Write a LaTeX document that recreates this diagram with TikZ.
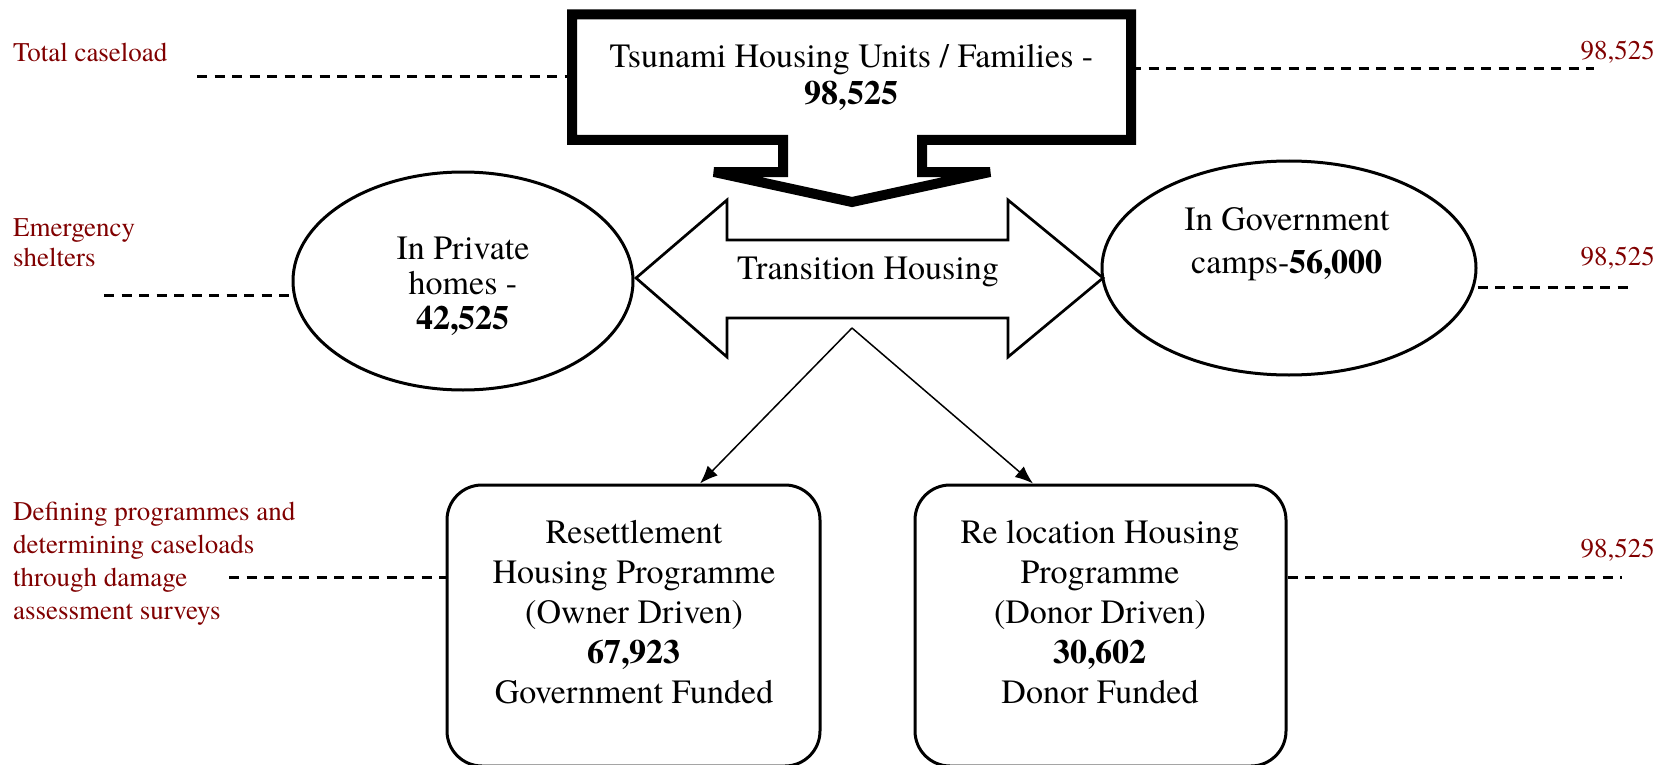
\documentclass[tikz,border=0pt]{standalone}
\usepackage{fontspec}
\setmainfont{TeX Gyre Termes}
\usetikzlibrary{shapes.geometric,arrows.meta}
\definecolor{lblred}{RGB}{128,0,0}
\begin{document}
\begin{tikzpicture}[x=1pt,y=-1pt,
  lbl/.style={text=lblred,font=\fontsize{27}{33}\selectfont,inner sep=0pt},
  maintxt/.style={font=\fontsize{34}{40}\selectfont,align=center,inner sep=0pt},
  dsh/.style={dash pattern=on 10pt off 7.5pt,line width=3pt},
  oval/.style={ellipse,draw,line width=3pt,inner sep=0pt},
  rbx/.style={draw,rounded corners=35pt,line width=3pt,minimum height=281pt,inner sep=0pt},
  thinarrow/.style={line width=1.5pt,-{Latex[length=18pt,width=14pt]}}
]
\useasboundingbox (0,0) rectangle (1657,765);
\clip (0,0) rectangle (1657,765);

% top callout box
\node[maintxt,font=\fontsize{34}{37}\selectfont,minimum width=559pt,minimum height=125.5pt] (topbox) at (851.5,77) {Tsunami Housing Units / Families -\\\textbf{98,525}};
\draw[line width=10pt,miter limit=2] (922,140) -- (1131,140) -- (1131,14.5) -- (572,14.5) -- (572,140) -- (783,140) -- (783,172) -- (714,172) -- (852,202) -- (990,172) -- (922,172) -- cycle;

% ellipses
\node[oval,minimum width=340pt,minimum height=218pt] (priv) at (463,281) {};
\node[maintxt,font=\fontsize{34}{35}\selectfont] (privt) at (463,286) {In Private\\homes -\\\textbf{42,525}};
\node[oval,minimum width=374pt,minimum height=214pt] (gov) at (1289,268) {};
\node[maintxt,font=\fontsize{34}{43}\selectfont] (govt) at (1287,244) {In Government\\camps-\textbf{56,000}};

% double arrow
\draw[line width=2.7pt,fill=white] (636,278) -- (727,200) -- (727,240) -- (1008,240) -- (1008,200) -- (1103,278) -- (1008,357) -- (1008,318) -- (727,318) -- (727,357) -- cycle;
\node[maintxt] (trans) at (868,272) {Transition Housing};

% bottom boxes
\node[rbx,minimum width=373pt] (lbox) at (633.5,625.5) {};
\node[maintxt] (ltxt) at (634,612) {Resettlement\\Housing Programme\\(Owner Driven)\\\textbf{67,923}\\Government Funded};
\node[rbx,minimum width=371pt] (rbox) at (1100.5,625.5) {};
\node[maintxt] (rtxt) at (1100,612) {Re location Housing\\Programme\\(Donor Driven)\\\textbf{30,602}\\Donor Funded};

% diagonal arrows
\coordinate (split) at (852,328);
\coordinate (la) at (700,0);
\coordinate (ra) at (1033,0);
\draw[thinarrow] (split) -- (lbox.north -| la);
\draw[thinarrow] (split) -- (rbox.north -| ra);

% labels
\node[lbl,anchor=west] (l1) at (13,52) {Total caseload};
\node[lbl,anchor=east] (r1) at (1655,52) {98,525};
\node[lbl,anchor=west,align=left,font=\fontsize{27}{30}\selectfont] (l2) at (13,243) {Emergency\\shelters};
\node[lbl,anchor=east] (r2) at (1655,258) {98,525};
\node[lbl,anchor=west,align=left] (l3) at (13,564) {Defining programmes and\\determining caseloads\\through damage\\assessment surveys};
\node[lbl,anchor=east] (r3) at (1655,550) {98,525};

% dashed leader lines
\coordinate (dl1) at (197,77);
\coordinate (dr1) at (1594,69);
\coordinate (dl2) at (104,295);
\coordinate (dr2) at (1629,287);
\coordinate (dl3) at (229,577);
\coordinate (dr3) at (1622,577);
\draw[dsh] (dl1) -- (topbox.west |- dl1);
\draw[dsh] (topbox.east |- dr1) -- (dr1);
\draw[dsh] (dl2) -- (priv.west |- dl2);
\draw[dsh] (gov.east |- dr2) -- (dr2);
\draw[dsh] (dl3) -- (lbox.west |- dl3);
\draw[dsh] (rbox.east |- dr3) -- (dr3);
\end{tikzpicture}
\end{document}
